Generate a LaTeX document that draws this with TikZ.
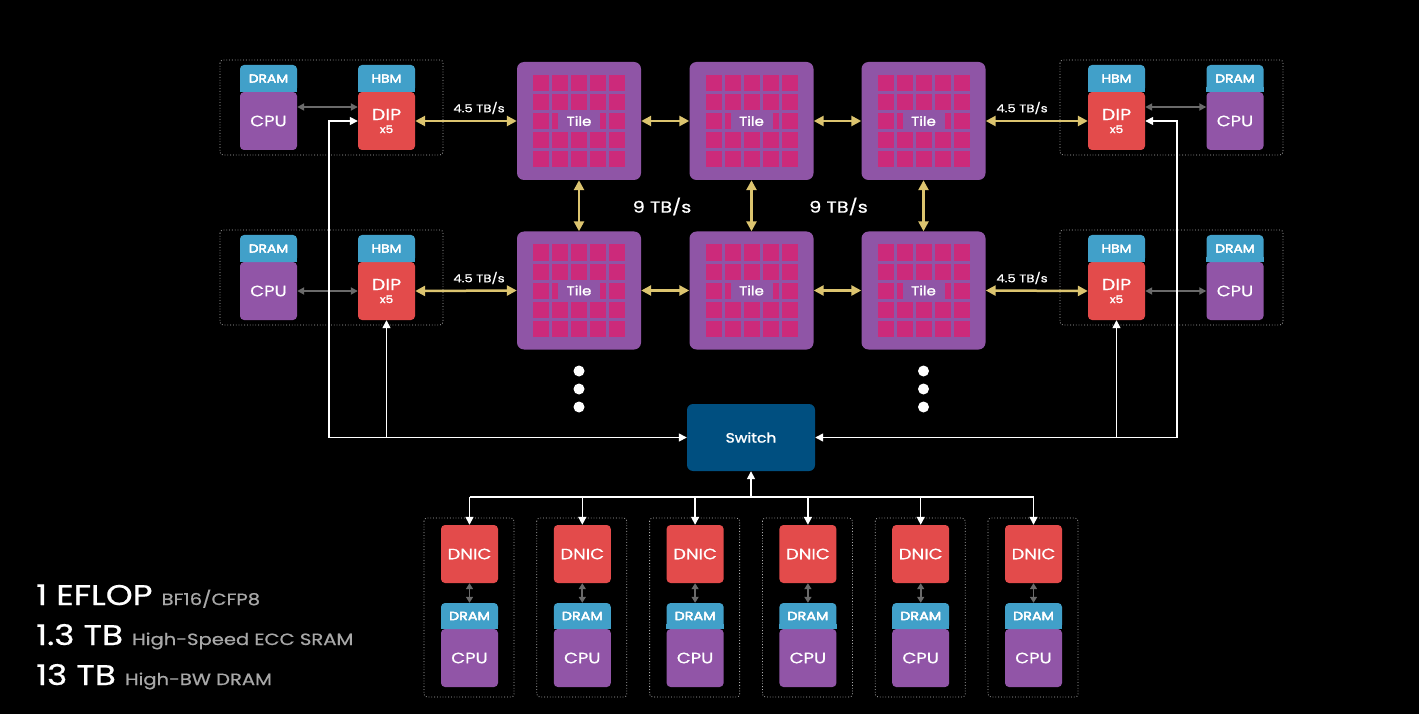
\documentclass[tikz,border=0pt]{standalone}
\usepackage{fontspec}
\setmainfont{Poppins}[FakeStretch=1.2, FakeBold=0.6]
\newfontfamily\semib{Poppins}[FakeStretch=1.15, FakeBold=1.6]
\usetikzlibrary{arrows.meta,calc}
\definecolor{cpuC}{HTML}{9155A7}
\definecolor{memC}{HTML}{41A0C9}
\definecolor{dipC}{HTML}{E34B4B}
\definecolor{tileC}{HTML}{8F55A6}
\definecolor{sqC}{HTML}{CC2A7B}
\definecolor{goldC}{HTML}{DCC46F}
\definecolor{grayC}{HTML}{6A6A6A}
\definecolor{swC}{HTML}{004F80}
\definecolor{dotC}{HTML}{B0B0B0}
\definecolor{subC}{HTML}{A8A8A8}
\newcommand{\fs}[1]{\fontsize{#1}{#1}\selectfont}
\begin{document}
\begin{tikzpicture}[x=1pt,y=-1pt,
  box/.style={rounded corners=4pt, inner sep=0pt, text=white, minimum width=57pt},
  cpubox/.style={box, fill=cpuC, minimum height=58pt, font=\fs{15}},
  membox/.style={box, fill=memC, minimum height=27pt, font=\fs{11.5}},
  dipbox/.style={box, fill=dipC, minimum height=58pt, align=center},
  nicbox/.style={box, fill=dipC, minimum height=58pt, font=\fs{15}},
  tilebox/.style={rounded corners=7pt, fill=tileC, minimum width=124pt, minimum height=118pt, inner sep=0pt},
  sq/.style={fill=sqC, minimum size=16pt, inner sep=0pt},
  tlabel/.style={fill=tileC, minimum width=42pt, minimum height=18pt, inner sep=0pt, text=white, font=\semib\fs{13}},
  grp/.style={draw=dotC, dotted, line width=0.8pt, rounded corners=3pt},
  gold/.style={draw=goldC, line width=2.5pt, {Triangle[length=10pt,width=10pt]}-{Triangle[length=10pt,width=10pt]}},
  grayarr/.style={draw=grayC, line width=1.8pt, {Triangle[length=7pt,width=7pt]}-{Triangle[length=7pt,width=7pt]}},
  wline/.style={draw=white, line width=1.5pt},
  warr/.style={wline, -{Triangle[length=8pt,width=8pt]}},
  bw/.style={text=white, inner sep=0pt},
  dotn/.style={circle, fill=white, minimum size=11pt, inner sep=0pt}
]
\fill[black] (0,0) rectangle (1419,714);
\useasboundingbox (0,0) rectangle (1419,714);

% ---------- side groups ----------
\foreach \r/\dy in {1/0,2/170}{
  \draw[grp] (220,60+\dy) rectangle (443,155+\dy);
  \draw[grp] (1060,60+\dy) rectangle (1283,155+\dy);
  \node[cpubox] (cpuL\r) at (268.5,121+\dy) {CPU};
  \node[membox] (dramL\r) at (268.5,78.5+\dy) {DRAM};
  \fill[memC] ($(dramL\r.south west)+(0,-5)$) rectangle (dramL\r.south east);
  \node[dipbox] (dipL\r) at (386.5,121+\dy) {\fs{16}DIP\\[1pt]\semib\fs{10.5}x5};
  \node[membox] (hbmL\r) at (386.5,78.5+\dy) {HBM};
  \fill[memC] ($(hbmL\r.south west)+(0,-5)$) rectangle (hbmL\r.south east);
  \node[dipbox] (dipR\r) at (1116.5,121+\dy) {\fs{16}DIP\\[1pt]\semib\fs{10.5}x5};
  \node[membox] (hbmR\r) at (1116.5,78.5+\dy) {HBM};
  \fill[memC] ($(hbmR\r.south west)+(0,-5)$) rectangle (hbmR\r.south east);
  \node[cpubox] (cpuR\r) at (1235,121+\dy) {CPU};
  \node[membox] (dramR\r) at (1235,78.5+\dy) {DRAM};
  \fill[memC] ($(dramR\r.south west)+(0,-5)$) rectangle (dramR\r.south east);
}
% redraw text of memory boxes over fill patches
\foreach \r/\dy in {1/0,2/170}{
  \node[bw, font=\fs{11.5}] at (dramL\r) {DRAM};
  \node[bw, font=\fs{11.5}] at (hbmL\r) {HBM};
  \node[bw, font=\fs{11.5}] at (hbmR\r) {HBM};
  \node[bw, font=\fs{11.5}] at (dramR\r) {DRAM};
}

% ---------- tiles ----------
\foreach \c/\x in {1/579,2/751.5,3/923.5}{
  \foreach \r/\y in {1/121,2/290.5}{
    \node[tilebox] (t\r\c) at (\x,\y) {};
    \foreach \i in {-2,...,2}{
      \foreach \j in {-2,...,2}{
        \node[sq] at ($(t\r\c)+(\i*19,\j*19)$) {};
      }
    }
    \node[tlabel] (tl\r\c) at (t\r\c) {Tile};
  }
}

% tile links
\foreach \r in {1,2}{
  \draw[gold] (t\r1.east) -- (t\r2.west);
  \draw[gold] (t\r2.east) -- (t\r3.west);
  \draw[gold] (dipL\r.east) -- (t\r1.west);
  \draw[gold] (t\r3.east) -- (dipR\r.west);
}
\foreach \c in {1,2,3}{
  \draw[gold] (t1\c.south) -- (t2\c.north);
}
\node[bw, font=\fs{11}] (bwL1) at (479,108) {4.5 TB/s};
\node[bw, font=\fs{11}] (bwL2) at (479,278) {4.5 TB/s};
\node[bw, font=\fs{11}] (bwR1) at (1022,108) {4.5 TB/s};
\node[bw, font=\fs{11}] (bwR2) at (1022,278) {4.5 TB/s};
\node[bw, font=\fs{16}] (nine1) at (662,206.5) {9 TB/s};
\node[bw, font=\fs{16}] (nine2) at (838.5,206.5) {9 TB/s};

% CPU <-> DIP gray links
\draw[grayarr] ($(cpuL1.east)+(0,-14)$) -- ($(dipL1.west)+(0,-14)$);
\draw[grayarr] ($(dipR1.east)+(0,-14)$) -- ($(cpuR1.west)+(0,-14)$);
\draw[grayarr] (cpuL2.east) -- (dipL2.west);
\draw[grayarr] (dipR2.east) -- (cpuR2.west);

% dots
\foreach \x/\n in {579/a,923.5/b}{
  \node[dotn] (d1\n) at (\x,371) {};
  \node[dotn] (d2\n) at (\x,389) {};
  \node[dotn] (d3\n) at (\x,407) {};
}

% ---------- switch ----------
\node[rounded corners=6pt, fill=swC, minimum width=128pt, minimum height=67pt, inner sep=0pt, text=white, font=\semib\fs{13.5}] (sw) at (751,437.5) {Switch};

\coordinate (lb) at (329,437.5);
\coordinate (lj) at (dipL2.south |- lb);
\coordinate (rb) at (1177,437.5);
\coordinate (rj) at (dipR2.south |- rb);
\draw[warr] (lb) -- (sw.west);
\draw[warr] (lb) |- (dipL1.west);
\draw[warr] (lj) -- (dipL2.south);
\draw[warr] (rb) -- (sw.east);
\draw[warr] (rb) |- (dipR1.east);
\draw[warr] (rj) -- (dipR2.south);

% ---------- bottom nodes ----------
\foreach \i in {0,...,5}{
  \pgfmathsetmacro{\cx}{469.5+112.8*\i}
  \draw[grp] (\cx-45.5,518) rectangle (\cx+44.5,697);
  \node[nicbox] (nic\i) at (\cx,554) {DNIC};
  \node[cpubox] (bcpu\i) at (\cx,658) {CPU};
  \node[membox, minimum height=26pt, font=\fs{12}] (bdram\i) at (\cx,616) {DRAM};
  \fill[memC] ($(bdram\i.south west)+(0,-5)$) rectangle (bdram\i.south east);
  \node[bw, font=\fs{12}] at (bdram\i) {DRAM};
  \draw[grayarr, {Triangle[length=6pt,width=7pt]}-{Triangle[length=6pt,width=7pt]}] (nic\i.south) -- (bdram\i.north);
}
\coordinate (bb) at (sw.south |- 0,497);
\draw[warr] (bb) -- (sw.south);
\draw[wline] (nic0.north |- bb) -- (nic5.north |- bb);
\foreach \i in {0,...,5}{
  \draw[warr] (nic\i.north |- bb) -- (nic\i.north);
}

% ---------- stats ----------
\node[anchor=base west, inner sep=0pt, text=white, font=\fs{28.5}] (s1) at (36,605) {1 EFLOP \textcolor{subC}{\fs{16.3}BF16/CFP8}};
\node[anchor=base west, inner sep=0pt, text=white, font=\fs{28.5}] (s2) at (36,645) {1.3 TB \textcolor{subC}{\fs{16.3}High-Speed ECC SRAM}};
\node[anchor=base west, inner sep=0pt, text=white, font=\fs{28.5}] (s3) at (36,685) {13 TB \textcolor{subC}{\fs{16.3}High-BW DRAM}};
\end{tikzpicture}
\end{document}
